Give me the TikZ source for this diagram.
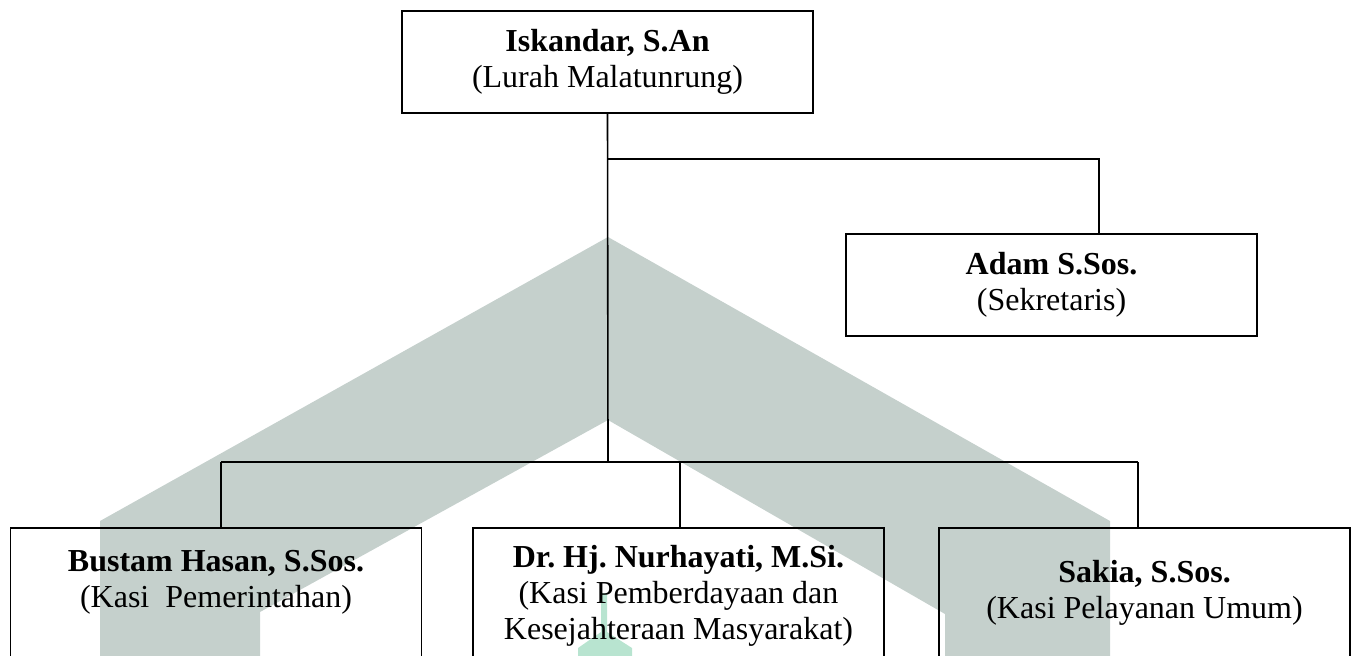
\documentclass[tikz,border=0pt]{standalone}
\usepackage{fontspec}
\setmainfont{Liberation Serif}
\usetikzlibrary{
    positioning,
    calc
}
\frenchspacing
\definecolor{tandaair}{RGB}{197,208,204}
\definecolor{tandahijau}{RGB}{184,228,208}
\tikzset {
    kotak/.style = {draw, line width = 0.6pt, inner sep = 0pt},
    kotak atas/.style = {kotak, minimum width = 154.1pt, minimum height = 38.25pt,
        align = center, font = \fontsize{12}{13.5}\selectfont},
    kotak bawah/.style = {kotak, minimum width = 154.1pt, minimum height = 72pt},
    isi/.style = {inner sep = 0pt, align = center, font = \fontsize{12}{13.5}\selectfont},
    garis/.style = {line width = 0.6pt}
}

\begin{document}
\begin{tikzpicture}[x = 0.375pt, y = -0.375pt]
    \useasboundingbox (0, 0) rectangle (1354, 655);
    \clip (0, 0) rectangle (1354, 655);
    % latar: tanda air
    \fill [tandaair] (100, 700) -- (100, 521) -- (608, 237) -- (1110, 521)
        -- (1110, 700) -- (945, 700) -- (945, 614) -- (608, 420)
        -- (260, 612) -- (260, 700) -- cycle;
    \fill [tandahijau] (601, 593) -- (607, 593) -- (607, 632) -- (632, 648)
        -- (632, 700) -- (578, 700) -- (578, 648) -- (601, 632) -- cycle;
    % kotak jabatan
    \node (lurah) [kotak atas] at (607.5, 62)
        {\textbf{Iskandar, S.An}\\(Lurah Malatunrung)};
    \node (sekretaris) [kotak atas] at (1051.5, 285)
        {\textbf{Adam S.Sos.}\\(Sekretaris)};
    \node (pemerintahan) [kotak bawah, anchor = north] at (216, 527) {};
    \node (pemberdayaan) [kotak bawah, anchor = north] at (678.5, 527) {};
    \node (pelayanan) [kotak bawah, anchor = north] at (1144.5, 527) {};
    \node (t1) [isi, below = 8.6pt of pemerintahan.north]
        {\textbf{Bustam Hasan, S.Sos.}\\(Kasi~ Pemerintahan)};
    \node (t2) [isi, below = 6.8pt of pemberdayaan.north]
        {\textbf{Dr. Hj. Nurhayati, M.Si.}\\(Kasi Pemberdayaan dan\\Kesejahteraan Masyarakat)};
    \node (t3) [isi, below = 12.4pt of pelayanan.north]
        {\textbf{Sakia, S.Sos.}\\(Kasi Pelayanan Umum)};
    % garis penghubung
    \coordinate (cabang) at (608, 159);
    \coordinate (cabang kanan) at (1099, 159);
    \coordinate (bus) at (608, 462);
    \coordinate (bus kiri) at (221, 462);
    \coordinate (bus tengah) at (680, 462);
    \coordinate (bus kanan) at (1138, 462);
    \draw [garis] (lurah.south) -- (bus);
    \draw [garis] (cabang) -- (cabang kanan) -- (cabang kanan |- sekretaris.north);
    \draw [garis] (bus kiri) -- (bus kanan);
    \draw [garis] (bus kiri) -- (bus kiri |- pemerintahan.north);
    \draw [garis] (bus tengah) -- (bus tengah |- pemberdayaan.north);
    \draw [garis] (bus kanan) -- (bus kanan |- pelayanan.north);
\end{tikzpicture}
\end{document}
